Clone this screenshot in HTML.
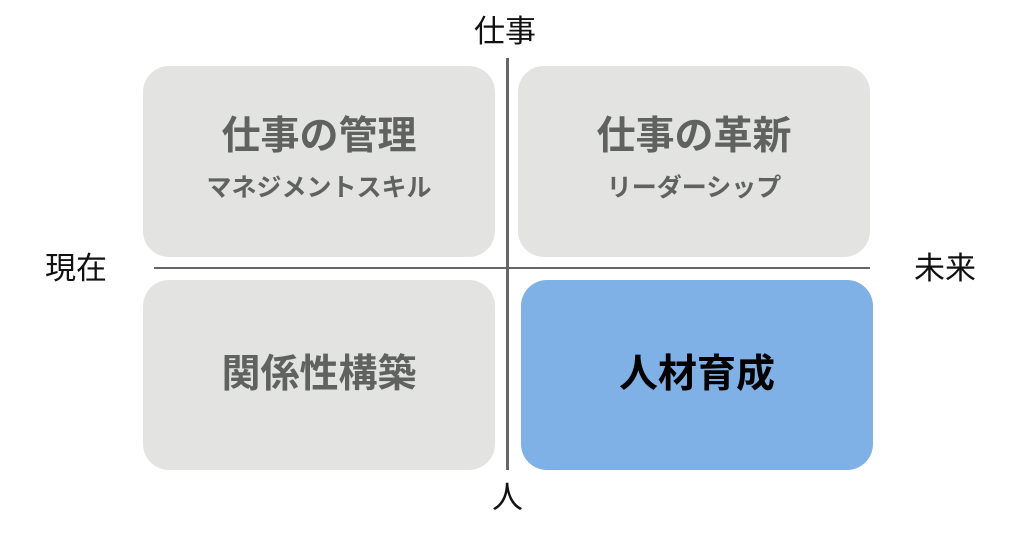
<!DOCTYPE html>
<html><head><meta charset="utf-8"><style>
body{margin:0;width:1023px;height:535px;background:#fff;position:relative;overflow:hidden;font-family:"Liberation Sans","Noto Sans CJK JP",sans-serif}
.b{position:absolute;background:#e3e4e2;border-radius:26px;color:#5f625f;font-weight:bold;text-align:center}
.t{position:absolute;left:0;right:0;font-size:39px;line-height:42px}
.s{position:absolute;left:0;right:0;font-size:25px;line-height:28px}
.l{position:absolute;font-size:31px;line-height:34px;color:#111}
.ln{position:absolute;background:#666}
</style></head><body>
<div class="ln" style="left:506px;top:58px;width:3px;height:412px"></div>
<div class="ln" style="left:154px;top:267px;width:716px;height:2px"></div>
<div class="b" style="left:143px;top:66px;width:352px;height:191px"><div class="t" style="top:50px">仕事の管理</div><div class="s" style="top:108px">マネジメントスキル</div></div>
<div class="b" style="left:518px;top:66px;width:352px;height:191px"><div class="t" style="top:50px">仕事の革新</div><div class="s" style="top:108px">リーダーシップ</div></div>
<div class="b" style="left:143px;top:280px;width:352px;height:190px"><div class="t" style="top:74px">関係性構築</div></div>
<div class="b" style="left:521px;top:280px;width:352px;height:190px;background:#7fb0e6;color:#000"><div class="t" style="top:74px">人材育成</div></div>
<div class="l" style="left:474px;top:15px">仕事</div>
<div class="l" style="left:492px;top:481px">人</div>
<div class="l" style="left:45px;top:252px">現在</div>
<div class="l" style="left:914px;top:252px">未来</div>
</body></html>
